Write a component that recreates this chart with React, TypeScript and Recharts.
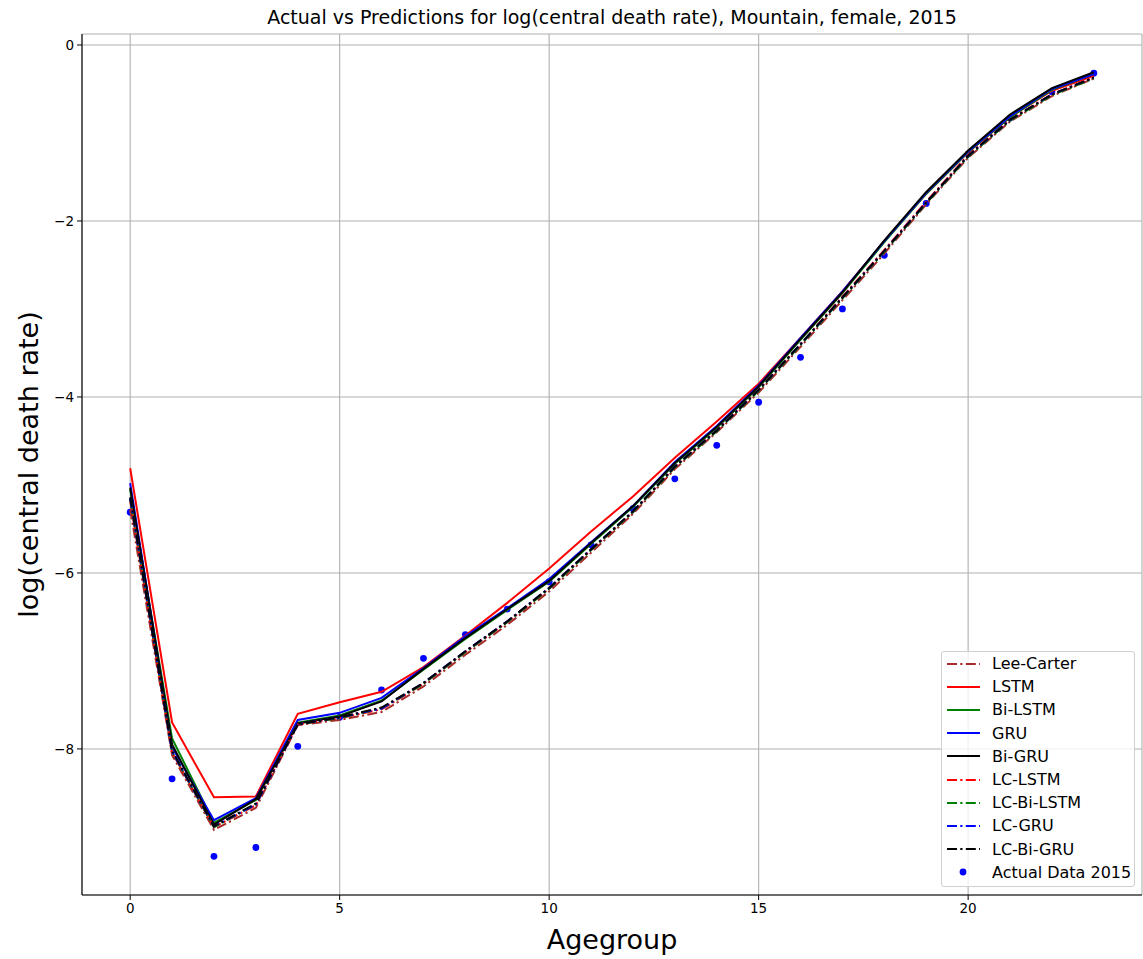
import React from 'react';
import {
  ComposedChart, Line, Scatter, XAxis, YAxis, CartesianGrid, Legend, Label,
} from 'recharts';

const ageGroups = [0, 1, 2, 3, 4, 5, 6, 7, 8, 9, 10, 11, 12, 13, 14, 15, 16, 17, 18, 19, 20, 21, 22, 23];

const leeCarter = [-5.28, -8.07, -8.92, -8.67, -7.73, -7.67, -7.58, -7.29, -6.93, -6.59, -6.21, -5.77, -5.33, -4.82, -4.40, -3.95, -3.43, -2.90, -2.37, -1.81, -1.28, -0.87, -0.58, -0.38];
const lstm = [-4.81, -7.70, -8.55, -8.54, -7.60, -7.47, -7.35, -7.07, -6.71, -6.34, -5.95, -5.53, -5.13, -4.69, -4.28, -3.85, -3.33, -2.80, -2.23, -1.69, -1.22, -0.82, -0.52, -0.35];
const biLstm = [-5.05, -7.88, -8.84, -8.58, -7.70, -7.62, -7.45, -7.10, -6.75, -6.42, -6.10, -5.67, -5.25, -4.76, -4.35, -3.89, -3.35, -2.82, -2.24, -1.69, -1.22, -0.82, -0.51, -0.33];
const gru = [-4.98, -7.98, -8.81, -8.56, -7.67, -7.59, -7.42, -7.08, -6.72, -6.40, -6.07, -5.65, -5.24, -4.74, -4.33, -3.87, -3.33, -2.80, -2.23, -1.68, -1.21, -0.81, -0.50, -0.33];
const biGru = [-5.03, -7.95, -8.86, -8.57, -7.71, -7.63, -7.46, -7.09, -6.74, -6.41, -6.09, -5.66, -5.24, -4.75, -4.34, -3.88, -3.34, -2.81, -2.22, -1.67, -1.20, -0.79, -0.49, -0.31];
const lcLstm = [-5.18, -8.04, -8.89, -8.64, -7.72, -7.65, -7.55, -7.26, -6.90, -6.56, -6.18, -5.74, -5.31, -4.80, -4.38, -3.92, -3.40, -2.86, -2.33, -1.78, -1.25, -0.85, -0.56, -0.37];
const lcBiLstm = [-5.16, -8.03, -8.89, -8.63, -7.72, -7.65, -7.54, -7.26, -6.90, -6.56, -6.18, -5.74, -5.31, -4.80, -4.39, -3.93, -3.41, -2.88, -2.35, -1.80, -1.27, -0.86, -0.57, -0.38];
const lcGru = [-5.15, -8.03, -8.88, -8.63, -7.72, -7.64, -7.54, -7.25, -6.89, -6.55, -6.17, -5.73, -5.30, -4.79, -4.38, -3.92, -3.40, -2.87, -2.34, -1.79, -1.26, -0.85, -0.56, -0.37];
const lcBiGru = [-5.14, -8.02, -8.88, -8.62, -7.72, -7.64, -7.53, -7.25, -6.89, -6.55, -6.17, -5.73, -5.30, -4.79, -4.38, -3.92, -3.40, -2.87, -2.34, -1.79, -1.26, -0.85, -0.56, -0.37];
const actual2015 = [-5.31, -8.34, -9.22, -9.12, -7.97, -7.64, -7.33, -6.97, -6.70, -6.41, -6.10, -5.68, -5.27, -4.93, -4.55, -4.06, -3.55, -3.00, -2.39, -1.80, -1.24, -0.83, -0.53, -0.32];

const xTicks = [0, 5, 10, 15, 20];
const yTicks = [0, -2, -4, -6, -8];

const DASHDOT = '10 3.3 2.2 3.3';

const seriesDefs = [
  { key: 'leeCarter', name: 'Lee-Carter', values: leeCarter, color: '#a52a2a', dash: DASHDOT },
  { key: 'lstm', name: 'LSTM', values: lstm, color: '#ff0000', dash: undefined },
  { key: 'biLstm', name: 'Bi-LSTM', values: biLstm, color: '#008000', dash: undefined },
  { key: 'gru', name: 'GRU', values: gru, color: '#0000ff', dash: undefined },
  { key: 'biGru', name: 'Bi-GRU', values: biGru, color: '#000000', dash: undefined },
  { key: 'lcLstm', name: 'LC-LSTM', values: lcLstm, color: '#ff0000', dash: DASHDOT },
  { key: 'lcBiLstm', name: 'LC-Bi-LSTM', values: lcBiLstm, color: '#008000', dash: DASHDOT },
  { key: 'lcGru', name: 'LC-GRU', values: lcGru, color: '#0000ff', dash: DASHDOT },
  { key: 'lcBiGru', name: 'LC-Bi-GRU', values: lcBiGru, color: '#000000', dash: DASHDOT },
];

const data = ageGroups.map((x, i) => {
  const row: Record<string, number> = { x, actual: actual2015[i] };
  seriesDefs.forEach((s) => { row[s.key] = s.values[i]; });
  return row;
});

const FONT = '"DejaVu Sans", sans-serif';
const X_DOMAIN: [number, number] = [-1.15, 24.15];
const Y_DOMAIN: [number, number] = [-9.66, 0.125];
const W = 1143;
const H = 959;
const MARGIN = { top: 34, right: 1, bottom: 0, left: 0 };

const fmt = (v: number) => String(v).replace('-', '\u2212');

const LegendBox = () => (
  <div
    style={{
      width: 192,
      border: '1px solid #d0d0d0',
      borderRadius: 3,
      background: 'rgba(255,255,255,0.8)',
      paddingBottom: 2,
      fontFamily: FONT,
      fontSize: 16,
      color: '#000',
      boxSizing: 'content-box',
    }}
  >
    {seriesDefs.map((s) => (
      <div key={s.key} style={{ height: 23.2, display: 'flex', alignItems: 'center' }}>
        <svg width={33} height={10} style={{ marginLeft: 5, marginRight: 12, flex: 'none' }}>
          <line x1={0} y1={5} x2={33} y2={5} stroke={s.color} strokeWidth={2} strokeDasharray={s.dash} />
        </svg>
        <span style={{ whiteSpace: 'nowrap' }}>{s.name}</span>
      </div>
    ))}
    <div style={{ height: 23.2, display: 'flex', alignItems: 'center' }}>
      <svg width={33} height={10} style={{ marginLeft: 5, marginRight: 12, flex: 'none' }}>
        <circle cx={16} cy={5} r={3.4} fill="#0000ff" />
      </svg>
      <span style={{ whiteSpace: 'nowrap' }}>Actual Data 2015</span>
    </div>
  </div>
);

const Dot = (props: any) => <circle cx={props.cx} cy={props.cy} r={3.4} fill="#0000ff" />;

const tickStyle = { fill: '#000', fontSize: 13.5, fontFamily: FONT };
const axisStroke = { stroke: '#000', strokeWidth: 1.1 };

export default function App() {
  return (
    <div style={{ position: 'absolute', left: 0, top: 0, width: W, height: H, background: '#fff' }}>
      <div
        style={{
          position: 'absolute', left: 82, top: 6, width: 1060, height: 22, lineHeight: '22px',
          textAlign: 'center', fontFamily: FONT, fontSize: 19, color: '#000', whiteSpace: 'nowrap',
        }}
      >
        Actual vs Predictions for log(central death rate), Mountain, female, 2015
      </div>
      {/* Bottom layer: grid, axes, frame and the actual data points (drawn beneath the lines) */}
      <div style={{ position: 'absolute', left: 0, top: 0 }}>
        <ComposedChart width={W} height={H} data={data} margin={MARGIN}>
          <CartesianGrid stroke="#b0b0b0" strokeWidth={1.1} />
          <XAxis
            dataKey="x" type="number" domain={X_DOMAIN} ticks={xTicks} allowDataOverflow
            height={64} tickSize={5} tickMargin={3} interval={0}
            axisLine={axisStroke} tickLine={{ stroke: '#000' }} tick={tickStyle}
          >
            <Label value="Agegroup" position="insideBottom" offset={10} style={{ fontSize: 27, fontFamily: FONT, fill: '#000' }} />
          </XAxis>
          <XAxis xAxisId="top" orientation="top" type="number" domain={X_DOMAIN} allowDataOverflow height={0}
            tick={false} tickLine={false} axisLine={axisStroke} />
          <YAxis
            type="number" domain={Y_DOMAIN} ticks={yTicks} allowDataOverflow width={82}
            tickSize={5} tickMargin={3} interval={0} tickFormatter={fmt}
            axisLine={axisStroke} tickLine={{ stroke: '#000' }} tick={tickStyle}
          >
            <Label value="log(central death rate)" angle={-90} position="insideLeft" offset={28}
              style={{ fontSize: 27, fontFamily: FONT, fill: '#000', textAnchor: 'middle' }} />
          </YAxis>
          <YAxis yAxisId="right" orientation="right" type="number" domain={Y_DOMAIN} allowDataOverflow width={0}
            tick={false} tickLine={false} axisLine={axisStroke} />
          <Scatter dataKey="actual" name="Actual Data 2015" fill="#0000ff" shape={Dot} isAnimationActive={false} />
        </ComposedChart>
      </div>
      {/* Top layer: prediction lines and legend, same scales */}
      <div style={{ position: 'absolute', left: 0, top: 0 }}>
        <ComposedChart width={W} height={H} data={data} margin={MARGIN}>
          <XAxis dataKey="x" type="number" domain={X_DOMAIN} ticks={xTicks} allowDataOverflow height={64}
            tick={false} tickLine={false} axisLine={false} />
          <YAxis type="number" domain={Y_DOMAIN} ticks={yTicks} allowDataOverflow width={82}
            tick={false} tickLine={false} axisLine={false} />
          <YAxis yAxisId="right" orientation="right" type="number" domain={Y_DOMAIN} allowDataOverflow width={0}
            tick={false} tickLine={false} axisLine={false} />
          {seriesDefs.map((s) => (
            <Line
              key={s.key} type="linear" dataKey={s.key} name={s.name} stroke={s.color} strokeWidth={2}
              strokeDasharray={s.dash} dot={false} activeDot={false} isAnimationActive={false}
            />
          ))}
          <Legend
            layout="vertical" align="center" verticalAlign="middle"
            wrapperStyle={{ left: 941, top: 651, width: 194, height: 236 }}
            content={() => <LegendBox />}
          />
        </ComposedChart>
      </div>
    </div>
  );
}
